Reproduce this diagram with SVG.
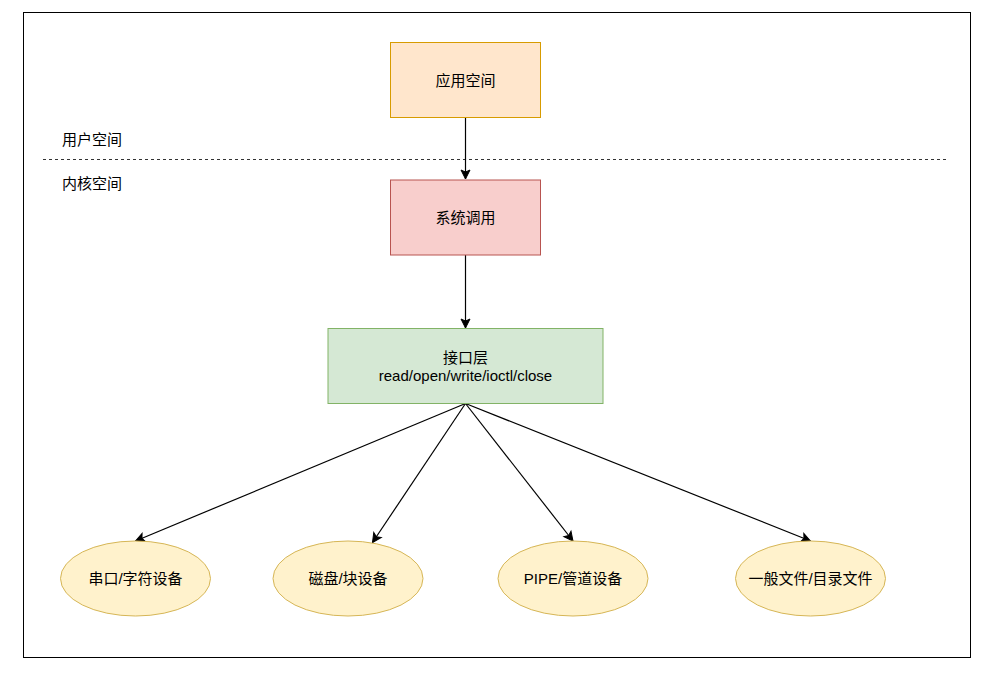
<svg xmlns="http://www.w3.org/2000/svg" width="986" height="674" viewBox="0 0 986 674">
<style>
text{font-family:"Liberation Sans","Noto Sans CJK SC",sans-serif;font-size:15px;fill:#000;}
.c{text-anchor:middle;dominant-baseline:central;}
.l{dominant-baseline:central;}
.edge{stroke:#000;stroke-width:1.2;fill:none;}
</style>
<defs>
<marker id="arr" markerUnits="userSpaceOnUse" viewBox="-10 -6 12 12" refX="0" refY="0" markerWidth="12" markerHeight="12" orient="auto" overflow="visible">
<path d="M0,0 L-9,-4.5 L-7,0 L-9,4.5 Z" fill="#000" stroke="#000" stroke-width="1"/>
</marker>
</defs>
<rect width="986" height="674" fill="#fff"/>
<rect x="23.5" y="12.5" width="947" height="645" fill="none" stroke="#000" stroke-width="1"/>
<g id="divider">
<line x1="43" y1="159.5" x2="947" y2="159.5" stroke="#333" stroke-width="1" stroke-dasharray="3,3"/>
<text class="l" x="62" y="139">用户空间</text>
<text class="l" x="62" y="183.5">内核空间</text>
</g>
<g id="connectors">
<path class="edge" d="M465.5,117.5 L465.5,179" marker-end="url(#arr)"/>
<path class="edge" d="M465.5,255 L465.5,328" marker-end="url(#arr)"/>
<path class="edge" d="M465.5,403.5 L135.5,541" marker-end="url(#arr)"/>
<path class="edge" d="M465.5,403.5 L372.5,542.5" marker-end="url(#arr)"/>
<path class="edge" d="M465.5,403.5 L573,541" marker-end="url(#arr)"/>
<path class="edge" d="M465.5,403.5 L810.5,541" marker-end="url(#arr)"/>
</g>
<g id="app">
<rect x="390.5" y="42.5" width="150" height="75" fill="#ffe6cc" stroke="#d79b00"/>
<text class="c" x="465.5" y="80">应用空间</text>
</g>
<g id="syscall">
<rect x="390.5" y="180" width="150" height="75" fill="#f8cecc" stroke="#b85450"/>
<text class="c" x="465.5" y="217.5">系统调用</text>
</g>
<g id="iface">
<rect x="328" y="328.5" width="275" height="75" fill="#d5e8d4" stroke="#82b366"/>
<text class="c" x="465.5" y="357">接口层</text>
<text class="c" x="465.5" y="375">read/open/write/ioctl/close</text>
</g>
<g id="serial">
<ellipse cx="135.5" cy="578.5" rx="75" ry="37.5" fill="#fff2cc" stroke="#d6b656"/>
<text class="c" x="135.5" y="578.5">串口/字符设备</text>
</g>
<g id="disk">
<ellipse cx="348" cy="578.5" rx="75" ry="37.5" fill="#fff2cc" stroke="#d6b656"/>
<text class="c" x="348" y="578.5">磁盘/块设备</text>
</g>
<g id="pipe">
<ellipse cx="573" cy="578.5" rx="75" ry="37.5" fill="#fff2cc" stroke="#d6b656"/>
<text class="c" x="573" y="578.5">PIPE/管道设备</text>
</g>
<g id="file">
<ellipse cx="810.5" cy="578.5" rx="75" ry="37.5" fill="#fff2cc" stroke="#d6b656"/>
<text class="c" x="810.5" y="578.5">一般文件/目录文件</text>
</g>
</svg>
